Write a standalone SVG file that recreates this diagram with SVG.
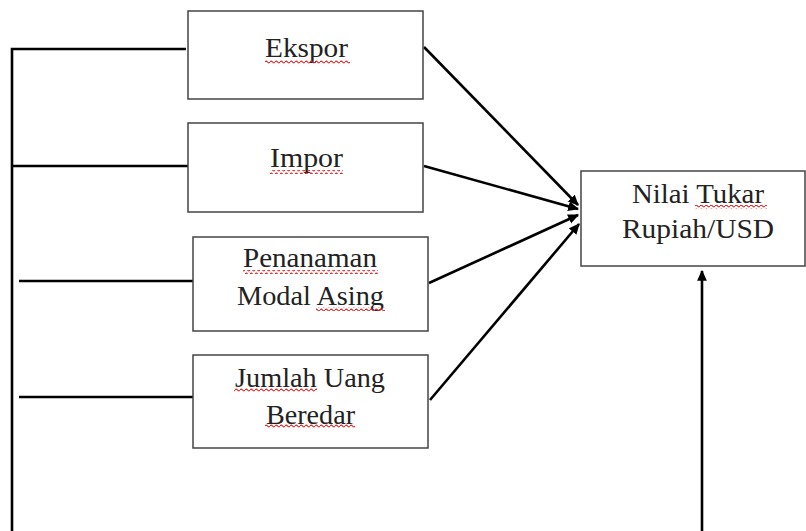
<svg xmlns="http://www.w3.org/2000/svg" width="806" height="531" viewBox="0 0 806 531">
<style>
.box{fill:#fff;stroke:#444;stroke-width:1.5}
.lbl{font-family:"Liberation Serif","Times New Roman",serif;font-size:28px;fill:#222;text-anchor:middle}
.conn{stroke:#000;stroke-width:2.6;fill:none}
</style>
<defs>
<marker id="ah" viewBox="0 0 10 10" refX="9" refY="5" markerWidth="4.2" markerHeight="4.2" orient="auto" markerUnits="strokeWidth">
<path d="M0,0.5 L10,5 L0,9.5 z" fill="#000"/>
</marker>
<pattern id="wave" width="5" height="4" patternUnits="userSpaceOnUse">
<path d="M0,2 Q1.25,0.3 2.5,2 T5,2" stroke="#e02020" stroke-width="1.1" fill="none"/>
</pattern>
</defs>
<rect width="806" height="531" fill="#fff"/>
<g id="connectors">
<path class="conn" d="M186,49 H12 V531"/>
<path class="conn" d="M188,166 H12"/>
<path class="conn" d="M193,281 H19"/>
<path class="conn" d="M193,397 H19"/>
<path class="conn" d="M424,47 L578,205" marker-end="url(#ah)"/>
<path class="conn" d="M424,166 L578,209" marker-end="url(#ah)"/>
<path class="conn" d="M429,283 L578,215" marker-end="url(#ah)"/>
<path class="conn" d="M430,400 L579,224" marker-end="url(#ah)"/>
<path class="conn" d="M702,531 V271" marker-end="url(#ah)"/>
</g>
<g id="ekspor">
<rect class="box" x="188" y="11" width="235" height="88"/>
<text class="lbl" x="306.5" y="57" textLength="83" lengthAdjust="spacingAndGlyphs">Ekspor</text>
<rect x="265" y="60" width="85" height="4" fill="url(#wave)"/>
</g>
<g id="impor">
<rect class="box" x="188" y="123" width="235" height="89"/>
<text class="lbl" x="306.5" y="167" textLength="73" lengthAdjust="spacingAndGlyphs">Impor</text>
<rect x="270" y="170" width="73" height="4" fill="url(#wave)"/>
</g>
<g id="pma">
<rect class="box" x="193" y="237" width="235" height="94"/>
<text class="lbl" x="310" y="267" textLength="134" lengthAdjust="spacingAndGlyphs">Penanaman</text>
<text class="lbl" x="310.5" y="305" textLength="147" lengthAdjust="spacingAndGlyphs">Modal Asing</text>
<rect x="243" y="270" width="135" height="4" fill="url(#wave)"/>
<rect x="316" y="307" width="69" height="4" fill="url(#wave)"/>
</g>
<g id="jub">
<rect class="box" x="193" y="355" width="235" height="93"/>
<text class="lbl" x="310" y="387" textLength="150" lengthAdjust="spacingAndGlyphs">Jumlah Uang</text>
<text class="lbl" x="310.5" y="424" textLength="89" lengthAdjust="spacingAndGlyphs">Beredar</text>
<rect x="234" y="388" width="83" height="4" fill="url(#wave)"/>
<rect x="265" y="424" width="90" height="4" fill="url(#wave)"/>
</g>
<g id="nilai">
<rect class="box" x="581" y="171" width="224" height="95"/>
<text class="lbl" x="698" y="203" textLength="132" lengthAdjust="spacingAndGlyphs">Nilai Tukar</text>
<text class="lbl" x="698" y="238" textLength="152" lengthAdjust="spacingAndGlyphs">Rupiah/USD</text>
<rect x="695" y="205" width="72" height="4" fill="url(#wave)"/>
</g>
</svg>
